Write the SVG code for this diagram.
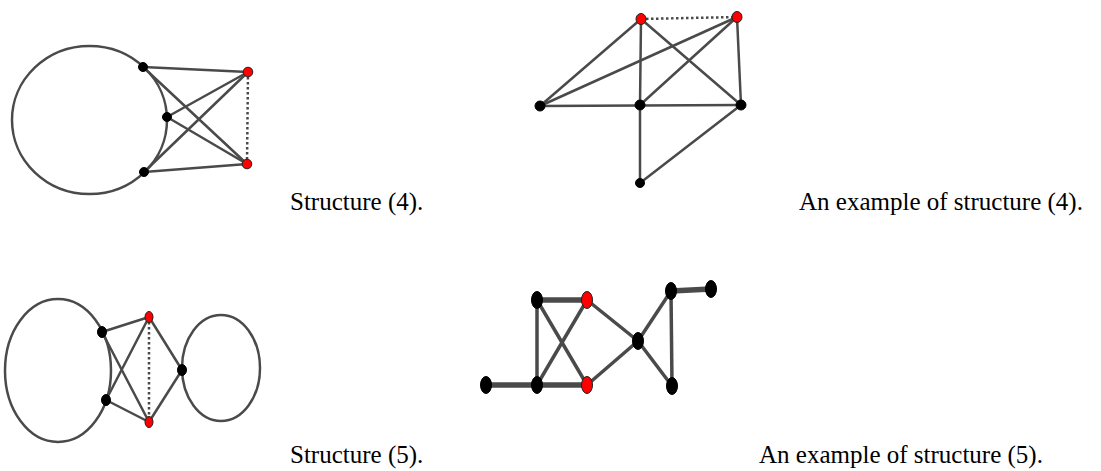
<svg xmlns="http://www.w3.org/2000/svg" width="1101" height="471" viewBox="0 0 1101 471">
<style>
.e{stroke:#4a4a4a;stroke-width:2.5;fill:none;stroke-linecap:round}
.w{stroke:#4a4a4a;stroke-width:3.5;fill:none}
.t{stroke:#4a4a4a;stroke-width:5.5;fill:none}
.d{stroke:#4a4a4a;stroke-width:2.5;fill:none;stroke-dasharray:2.5 2.5}
.b{fill:#000;stroke:#000;stroke-width:1}
.r{fill:#ff0000;stroke:#222;stroke-width:1}
.lab{font-family:"Liberation Serif","DejaVu Serif",serif;font-size:25px;fill:#000}
</style>
<g id="connectors">
<ellipse class="e" cx="89.5" cy="120" rx="77.5" ry="74"/>
<line class="e" x1="143" y1="67" x2="248" y2="72"/>
<line class="e" x1="143" y1="67" x2="247" y2="164"/>
<line class="e" x1="167" y1="117" x2="248" y2="72"/>
<line class="e" x1="167" y1="117" x2="247" y2="164"/>
<line class="e" x1="144" y1="172" x2="248" y2="72"/>
<line class="e" x1="144" y1="172" x2="247" y2="164"/>
<line class="d" x1="248" y1="72" x2="247" y2="164"/>

<line class="e" x1="641" y1="19" x2="540" y2="106"/>
<line class="e" x1="737" y1="17" x2="540" y2="106"/>
<line class="e" x1="641" y1="19" x2="640" y2="105"/>
<line class="e" x1="641" y1="19" x2="741" y2="105"/>
<line class="e" x1="737" y1="17" x2="640" y2="105"/>
<line class="e" x1="737" y1="17" x2="741" y2="105"/>
<line class="e" x1="540" y1="106" x2="741" y2="105"/>
<line class="e" x1="640" y1="105" x2="640" y2="183"/>
<line class="e" x1="741" y1="105" x2="640" y2="183"/>
<line class="d" x1="641" y1="19" x2="737" y2="17"/>

<ellipse class="e" cx="58" cy="370.5" rx="53" ry="71.5"/>
<ellipse class="e" cx="221" cy="368" rx="39" ry="53"/>
<line class="e" x1="102" y1="332" x2="149" y2="317"/>
<line class="e" x1="102" y1="332" x2="149" y2="422"/>
<line class="e" x1="106" y1="400" x2="149" y2="317"/>
<line class="e" x1="106" y1="400" x2="149" y2="422"/>
<line class="e" x1="149" y1="317" x2="182" y2="370"/>
<line class="e" x1="149" y1="422" x2="182" y2="370"/>
<line class="d" x1="149" y1="317" x2="149" y2="422"/>

<line class="t" x1="537" y1="300" x2="587" y2="300"/>
<line class="w" x1="537" y1="300" x2="537" y2="385"/>
<line class="w" x1="537" y1="300" x2="587" y2="385"/>
<line class="w" x1="537" y1="385" x2="587" y2="300"/>
<line class="t" x1="486" y1="385" x2="537" y2="385"/>
<line class="t" x1="537" y1="385" x2="587" y2="385"/>
<line class="w" x1="587" y1="300" x2="638" y2="341"/>
<line class="w" x1="587" y1="385" x2="638" y2="341"/>
<line class="w" x1="638" y1="341" x2="671" y2="291"/>
<line class="w" x1="638" y1="341" x2="672" y2="386"/>
<line class="w" x1="671" y1="291" x2="672" y2="386"/>
<line class="t" x1="671" y1="291" x2="711" y2="289"/>
</g>
<g id="s4-n1"><circle class="b" cx="143" cy="67" r="4.5"/></g>
<g id="s4-n2"><circle class="b" cx="167" cy="117" r="4.5"/></g>
<g id="s4-n3"><circle class="b" cx="144" cy="172" r="4.5"/></g>
<g id="s4-r1"><circle class="r" cx="248" cy="72" r="4.8"/></g>
<g id="s4-r2"><circle class="r" cx="247" cy="164" r="4.8"/></g>

<g id="e4-r1"><ellipse class="r" cx="641" cy="19" rx="5" ry="5.5"/></g>
<g id="e4-r2"><ellipse class="r" cx="737" cy="17" rx="5" ry="5.5"/></g>
<g id="e4-l"><circle class="b" cx="540" cy="106" r="5"/></g>
<g id="e4-m"><circle class="b" cx="640" cy="105" r="5"/></g>
<g id="e4-r"><circle class="b" cx="741" cy="105" r="5"/></g>
<g id="e4-b"><circle class="b" cx="640" cy="183" r="4.5"/></g>

<g id="s5-a"><ellipse class="b" cx="102" cy="332" rx="4.5" ry="5.5"/></g>
<g id="s5-b"><ellipse class="b" cx="106" cy="400" rx="4.5" ry="5.5"/></g>
<g id="s5-r1"><ellipse class="r" cx="149" cy="317" rx="4" ry="5.5"/></g>
<g id="s5-r2"><ellipse class="r" cx="149" cy="422" rx="4" ry="5.5"/></g>
<g id="s5-c"><ellipse class="b" cx="182" cy="370" rx="4.5" ry="5.5"/></g>

<g id="e5-a"><ellipse class="b" cx="537" cy="300" rx="5.5" ry="8.5"/></g>
<g id="e5-b"><ellipse class="r" cx="587" cy="300" rx="5.5" ry="8.5"/></g>
<g id="e5-c"><ellipse class="b" cx="486" cy="385" rx="5.5" ry="8.5"/></g>
<g id="e5-d"><ellipse class="b" cx="537" cy="385" rx="5.5" ry="8.5"/></g>
<g id="e5-e"><ellipse class="r" cx="587" cy="385" rx="5.5" ry="8.5"/></g>
<g id="e5-f"><ellipse class="b" cx="638" cy="341" rx="5.5" ry="8.5"/></g>
<g id="e5-g"><ellipse class="b" cx="671" cy="291" rx="5.5" ry="8.5"/></g>
<g id="e5-h"><ellipse class="b" cx="711" cy="289" rx="5.5" ry="8.5"/></g>
<g id="e5-i"><ellipse class="b" cx="672" cy="386" rx="5.5" ry="8.5"/></g>

<g id="labels">
<text class="lab" x="290" y="210">Structure (4).</text>
<text class="lab" x="799" y="210">An example of structure (4).</text>
<text class="lab" x="290" y="463">Structure (5).</text>
<text class="lab" x="759" y="463">An example of structure (5).</text>
</g>
</svg>
